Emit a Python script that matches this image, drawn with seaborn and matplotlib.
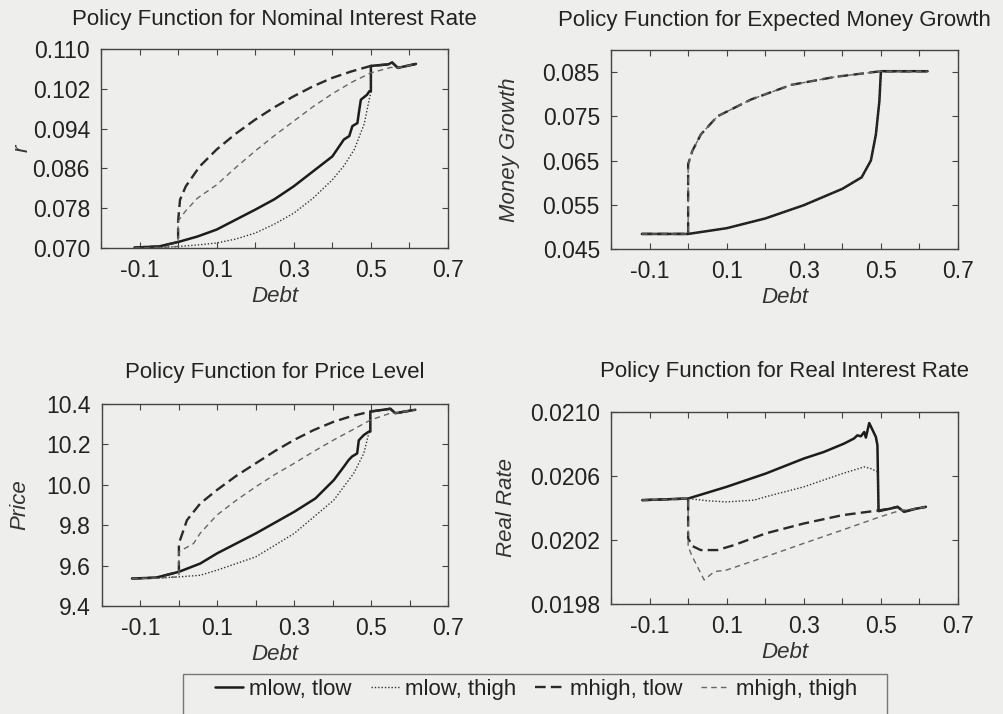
import numpy as np
import seaborn as sns
from matplotlib import pyplot as plt
from matplotlib.patches import Rectangle
from matplotlib.ticker import FormatStrFormatter

# ---------------------------- data ----------------------
series_names = ['mlow, tlow', 'mlow, thigh', 'mhigh, tlow', 'mhigh, thigh']

# nominal interest rate r
r_ml_tl_x = [-0.113, -0.05, 0.0, 0.05, 0.1, 0.15, 0.2, 0.25, 0.3, 0.35, 0.4, 0.43, 0.444, 0.452,
             0.465, 0.47, 0.474, 0.49, 0.496, 0.5, 0.5, 0.545, 0.555, 0.57, 0.617]
r_ml_tl_y = [0.0701, 0.0703, 0.0712, 0.0723, 0.0737, 0.0757, 0.0777, 0.0798, 0.0824, 0.0854, 0.0884,
             0.0918, 0.0925, 0.0945, 0.0951, 0.0978, 0.0998, 0.1008, 0.1015, 0.1015, 0.1066, 0.1069,
             0.1073, 0.1062, 0.1070]
r_ml_th_x = [-0.113, -0.05, 0.0, 0.05, 0.1, 0.15, 0.2, 0.25, 0.3, 0.35, 0.4, 0.43, 0.457, 0.483,
             0.496, 0.5, 0.5, 0.545, 0.555, 0.57, 0.617]
r_ml_th_y = [0.0700, 0.0701, 0.0703, 0.0706, 0.0710, 0.0718, 0.0730, 0.0748, 0.0770, 0.0800, 0.0837,
             0.0865, 0.0898, 0.0950, 0.1000, 0.1012, 0.1066, 0.1069, 0.1073, 0.1062, 0.1070]
r_mh_tl_x = [-0.113, -0.05, 0.0, 0.0, 0.005, 0.02, 0.056, 0.1, 0.15, 0.2, 0.25, 0.3, 0.35, 0.4, 0.45,
             0.5, 0.545, 0.555, 0.57, 0.617]
r_mh_tl_y = [0.0701, 0.0703, 0.0712, 0.0754, 0.0797, 0.0824, 0.0864, 0.0898, 0.0930, 0.0958, 0.0983,
             0.1005, 0.1025, 0.1042, 0.1055, 0.1066, 0.1069, 0.1073, 0.1062, 0.1070]
r_mh_th_x = [-0.113, -0.05, 0.0, 0.0, 0.02, 0.05, 0.1, 0.15, 0.2, 0.25, 0.3, 0.35, 0.4, 0.45, 0.5,
             0.552, 0.57, 0.617]
r_mh_th_y = [0.0700, 0.0701, 0.0703, 0.0754, 0.0775, 0.0800, 0.0827, 0.0862, 0.0895, 0.0926, 0.0955,
             0.0984, 0.1010, 0.1033, 0.1052, 0.1063, 0.1062, 0.1070]

# expected money growth
m_ml_x = [-0.12, 0.0, 0.1, 0.2, 0.3, 0.4, 0.45, 0.474, 0.487, 0.496, 0.5, 0.621]
m_ml_y = [0.0484, 0.0484, 0.0497, 0.0519, 0.0549, 0.0586, 0.0612, 0.0650, 0.0709, 0.0784, 0.0852, 0.0852]
m_mh_x = [-0.12, 0.0, 0.0, 0.011, 0.033, 0.076, 0.163, 0.267, 0.38, 0.5, 0.621]
m_mh_y = [0.0484, 0.0484, 0.0642, 0.0672, 0.0709, 0.0750, 0.0788, 0.0821, 0.0839, 0.0852, 0.0852]

# price level
p_ml_tl_x = [-0.122, -0.06, 0.0, 0.0555, 0.099, 0.2, 0.3, 0.355, 0.403, 0.429, 0.4415, 0.45, 0.4637,
             0.468, 0.481, 0.494, 0.498, 0.498, 0.55, 0.563, 0.615]
p_ml_tl_y = [9.536, 9.540, 9.569, 9.610, 9.660, 9.759, 9.866, 9.932, 10.023, 10.089, 10.122, 10.139,
             10.155, 10.220, 10.246, 10.263, 10.263, 10.362, 10.376, 10.354, 10.371]
p_ml_th_x = [-0.122, -0.06, 0.0, 0.0555, 0.099, 0.2, 0.3, 0.403, 0.4546, 0.481, 0.494, 0.498, 0.498,
             0.55, 0.563, 0.615]
p_ml_th_y = [9.536, 9.538, 9.544, 9.552, 9.577, 9.643, 9.759, 9.924, 10.056, 10.155, 10.255, 10.270,
             10.362, 10.376, 10.354, 10.371]
p_mh_tl_x = [-0.122, -0.06, 0.0, 0.0, 0.021, 0.0555, 0.099, 0.15, 0.2, 0.25, 0.3, 0.35, 0.403, 0.45,
             0.498, 0.55, 0.563, 0.615]
p_mh_tl_y = [9.536, 9.540, 9.569, 9.709, 9.825, 9.907, 9.974, 10.045, 10.106, 10.167, 10.222, 10.270,
             10.312, 10.340, 10.362, 10.376, 10.354, 10.371]
p_mh_th_x = [-0.122, -0.06, 0.0, 0.0, 0.038, 0.0555, 0.099, 0.15, 0.2, 0.25, 0.3, 0.35, 0.403, 0.45,
             0.498, 0.55, 0.563, 0.615]
p_mh_th_y = [9.536, 9.538, 9.544, 9.668, 9.709, 9.760, 9.850, 9.924, 9.990, 10.051, 10.106, 10.164,
             10.222, 10.270, 10.320, 10.354, 10.354, 10.371]

# real interest rate
q_ml_tl_x = [-0.119, 0.0, 0.0995, 0.201, 0.3, 0.352, 0.404, 0.43, 0.439, 0.448, 0.4567, 0.461, 0.4697,
             0.4869, 0.491, 0.4939, 0.526, 0.543, 0.56, 0.586, 0.6167]
q_ml_tl_y = [0.020449, 0.020459, 0.020532, 0.020615, 0.020709, 0.020750, 0.020802, 0.020834, 0.020854,
             0.020848, 0.020875, 0.020840, 0.020931, 0.020844, 0.020792, 0.020380, 0.020397, 0.020407,
             0.020376, 0.020393, 0.020407]
q_ml_th_x = [-0.119, 0.0, 0.05, 0.0995, 0.171, 0.201, 0.3, 0.4, 0.4567, 0.474, 0.491, 0.4939, 0.526,
             0.543, 0.56, 0.586, 0.6167]
q_ml_th_y = [0.020449, 0.020459, 0.020445, 0.020438, 0.020449, 0.020470, 0.020532, 0.020615, 0.020657,
             0.020646, 0.020626, 0.020380, 0.020397, 0.020407, 0.020376, 0.020393, 0.020407]
q_mh_tl_x = [-0.119, 0.0, 0.0, 0.011, 0.0325, 0.076, 0.119, 0.201, 0.3, 0.4, 0.498, 0.526, 0.543, 0.56,
             0.586, 0.6167]
q_mh_tl_y = [0.020449, 0.020459, 0.020210, 0.020162, 0.020137, 0.020137, 0.020168, 0.020241, 0.020303,
             0.020355, 0.020386, 0.020397, 0.020407, 0.020376, 0.020393, 0.020407]
q_mh_th_x = [-0.119, 0.0, 0.0, 0.011, 0.0415, 0.0675, 0.0995, 0.201, 0.3, 0.4, 0.498, 0.552, 0.586,
             0.6167]
q_mh_th_y = [0.020449, 0.020459, 0.020158, 0.020095, 0.019950, 0.020002, 0.020012, 0.020095, 0.020179,
             0.020262, 0.020345, 0.020386, 0.020393, 0.020407]

# ---------------------------- styling ----------------------------------------
bg = '#eeeeec'
sns.set_theme(style='ticks')
plt.rcParams['font.family'] = ['Liberation Sans', 'DejaVu Sans']
plt.rcParams['axes.edgecolor'] = '#444444'
plt.rcParams['axes.linewidth'] = 1.0

line_styles = [
    dict(color='#1c1c1c', linewidth=1.8, linestyle='-'),
    dict(color='#333333', linewidth=1.0, linestyle=(0, (1, 1.4))),
    dict(color='#2a2a2a', linewidth=1.7, linestyle=(0, (4.5, 2.2))),
    dict(color='#666666', linewidth=1.0, linestyle=(0, (4, 3))),
]

panels = [
    dict(title='Policy Function for Nominal Interest Rate', ylabel='r', title_x=0.5,
         pos=[0.1006, 0.6527, 0.3456, 0.2787], ylim=(0.070, 0.110),
         yticks=[0.070, 0.078, 0.086, 0.094, 0.102, 0.110], fmt='%.3f', pad=17, ylab_x=-0.197,
         lines=[(r_ml_tl_x, r_ml_tl_y), (r_ml_th_x, r_ml_th_y), (r_mh_tl_x, r_mh_tl_y), (r_mh_th_x, r_mh_th_y)]),
    dict(title='Policy Function for Expected Money Growth', ylabel='Money Growth', title_x=0.47,
         pos=[0.6086, 0.6513, 0.3456, 0.2787], ylim=(0.045, 0.090),
         yticks=[0.045, 0.055, 0.065, 0.075, 0.085], fmt='%.3f', pad=17, ylab_x=-0.262,
         lines=[(m_ml_x, m_ml_y), (m_ml_x, m_ml_y), (m_mh_x, m_mh_y), (m_mh_x, m_mh_y)]),
    dict(title='Policy Function for Price Level', ylabel='Price', title_x=0.5,
         pos=[0.1016, 0.1513, 0.3446, 0.2830], ylim=(9.4, 10.4),
         yticks=[9.4, 9.6, 9.8, 10.0, 10.2, 10.4], fmt='%.1f', pad=19, ylab_x=-0.208,
         lines=[(p_ml_tl_x, p_ml_tl_y), (p_ml_th_x, p_ml_th_y), (p_mh_tl_x, p_mh_tl_y), (p_mh_th_x, p_mh_th_y)]),
    dict(title='Policy Function for Real Interest Rate', ylabel='Real Rate', title_x=0.5,
         pos=[0.6086, 0.1541, 0.3456, 0.2689], ylim=(0.0198, 0.0210),
         yticks=[0.0198, 0.0202, 0.0206, 0.0210], fmt='%.4f', pad=25, ylab_x=-0.271,
         lines=[(q_ml_tl_x, q_ml_tl_y), (q_ml_th_x, q_ml_th_y), (q_mh_tl_x, q_mh_tl_y), (q_mh_th_x, q_mh_th_y)]),
]

fig = plt.figure(figsize=(10.04, 7.14), dpi=100, facecolor=bg)

handles = []
for k, p in enumerate(panels):
    ax = fig.add_axes(p['pos'])
    ax.set_facecolor(bg)
    for i, (x, y) in enumerate(p['lines']):
        sns.lineplot(x=x, y=y, ax=ax, sort=False, estimator=None, legend=False, **line_styles[i])
        if k == 0:
            handles.append(ax.lines[-1])
    ax.set_xlim(-0.2, 0.7)
    ax.set_ylim(*p['ylim'])
    ax.set_xticks([-0.1, 0.1, 0.3, 0.5, 0.7])
    ax.set_xticks([-0.2, 0.0, 0.2, 0.4, 0.6], minor=True)
    ax.set_yticks(p['yticks'])
    ax.yaxis.set_major_formatter(FormatStrFormatter(p['fmt']))
    ax.xaxis.set_major_formatter(FormatStrFormatter('%.1f'))
    ax.tick_params(which='both', direction='in', top=True, right=True, length=4,
                   width=0.8, color='#444444')
    ax.tick_params(which='major', labelsize=16.5, pad=8, labelcolor='#222222')
    ax.set_xlabel('Debt', fontsize=16, style='italic', color='#333333', labelpad=3)
    ax.set_ylabel(p['ylabel'], fontsize=16, style='italic', color='#333333')
    ax.yaxis.set_label_coords(p['ylab_x'], 0.5)
    ax.set_title(p['title'], fontsize=16, color='#222222', pad=p['pad'], x=p['title_x'])
    for s in ax.spines.values():
        s.set_visible(True)

# legend box (runs off the bottom of the page as in the scan)
fig.patches.append(Rectangle((183 / 1004, -0.02), 704 / 1004, (714 - 674) / 714 + 0.02,
                             transform=fig.transFigure, facecolor=bg, edgecolor='#777777',
                             linewidth=1.0, zorder=0))
leg = fig.legend(handles, series_names, loc='center left',
                 bbox_to_anchor=(215 / 1004, 1 - 689 / 714),
                 ncol=4, fontsize=16, handlelength=1.25, handletextpad=0.3,
                 columnspacing=0.85, borderpad=0.0, borderaxespad=0.0, frameon=False)
for t in leg.get_texts():
    t.set_color('#222222')

fig.savefig('out.png', dpi=100, facecolor=bg)
